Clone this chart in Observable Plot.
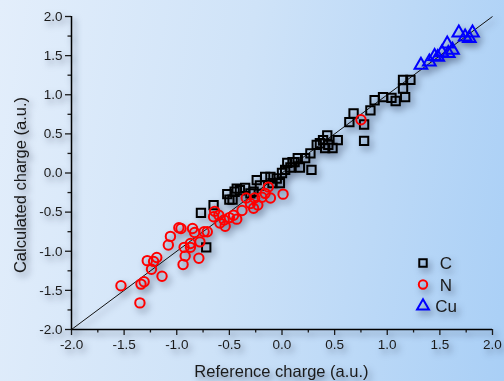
<!DOCTYPE html>
<html>
<head>
<meta charset="utf-8">
<script src="https://cdn.jsdelivr.net/npm/d3@7"></script>
<script src="https://cdn.jsdelivr.net/npm/@observablehq/plot@0.6"></script>
<style>
  html, body { margin: 0; padding: 0; }
  body { width: 504px; height: 381px; overflow: hidden;
         background: linear-gradient(100deg, #e3eefb 0%, #cfe3f8 45%, #a9cff6 100%); }
  #chart svg { display: block; filter: drop-shadow(3px 4px 3px rgba(20,30,60,0.5)); }
</style>
</head>
<body>
<div id="chart"></div>
<script>
// Tick values and labels
const majorTicks = [-2.0, -1.5, -1.0, -0.5, 0.0, 0.5, 1.0, 1.5, 2.0];
const minorTicks = [-1.75, -1.25, -0.75, -0.25, 0.25, 0.75, 1.25, 1.75];
const xTitle = "Reference charge (a.u.)";
const yTitle = "Calculated charge (a.u.)";
const seriesNames = ["C", "N", "Cu"];
const diagonal = [{x1: -2, y1: -2, x2: 2, y2: 2}];

// C (black squares)
const cRef  = [-0.77,-0.72,-0.65,-0.52,-0.50,-0.47,-0.45,-0.43,-0.40,-0.35,-0.30,-0.27,-0.24,-0.21,-0.16,-0.11,-0.09,-0.05,-0.02,0.00,0.03,0.05,0.08,0.10,0.12,0.15,0.17,0.22,0.27,0.28,0.33,0.36,0.39,0.43,0.44,0.41,0.48,0.53,0.64,0.68,0.78,0.78,0.84,0.88,0.96,1.04,1.08,1.17,1.15,1.15,1.22];
const cCalc = [-0.51,-0.95,-0.41,-0.27,-0.34,-0.34,-0.24,-0.20,-0.22,-0.19,-0.26,-0.24,-0.09,-0.16,-0.05,-0.05,-0.13,-0.07,-0.13,0.00,0.04,0.13,0.07,0.14,0.14,0.19,0.07,0.19,0.25,0.04,0.36,0.38,0.42,0.48,0.36,0.32,0.32,0.42,0.65,0.76,0.41,0.62,0.80,0.93,0.97,0.96,0.92,0.97,1.08,1.19,1.19];

// N (red circles)
const nRef  = [-1.53,-1.35,-1.34,-1.31,-1.28,-1.24,-1.22,-1.19,-1.14,-1.08,-1.06,-0.98,-0.96,-0.94,-0.92,-0.93,-0.87,-0.87,-0.85,-0.83,-0.79,-0.78,-0.74,-0.71,-0.64,-0.65,-0.60,-0.59,-0.55,-0.54,-0.50,-0.46,-0.43,-0.38,-0.34,-0.30,-0.27,-0.23,-0.26,-0.19,-0.16,-0.13,-0.11,0.01,0.75];
const nCalc = [-1.44,-1.66,-1.42,-1.39,-1.12,-1.23,-1.13,-1.08,-1.32,-0.92,-0.81,-0.70,-0.71,-1.17,-1.06,-0.95,-0.95,-0.90,-0.71,-0.76,-1.09,-0.88,-0.75,-0.75,-0.49,-0.56,-0.54,-0.64,-0.60,-0.68,-0.57,-0.54,-0.59,-0.48,-0.32,-0.39,-0.45,-0.41,-0.32,-0.31,-0.26,-0.18,-0.32,-0.27,0.68];

// Cu (blue triangles)
const cuRef  = [1.32,1.40,1.45,1.48,1.52,1.57,1.58,1.62,1.68,1.74,1.78,1.81];
const cuCalc = [1.38,1.42,1.49,1.48,1.54,1.65,1.53,1.57,1.79,1.74,1.72,1.79];

const cData  = cRef.map((x, i) => ({x, y: cCalc[i]}));
const nData  = nRef.map((x, i) => ({x, y: nCalc[i]}));
const cuData = cuRef.map((x, i) => ({x, y: cuCalc[i]}));

const fmt = d => d.toFixed(1);
const W = 504, H = 381, ML = 71, MR = 12, MT = 16, MB = 52;

const plot = Plot.plot({
  width: W, height: H,
  marginLeft: ML, marginRight: MR, marginTop: MT, marginBottom: MB,
  style: {fontFamily: "'Liberation Sans', Arial, sans-serif", fontSize: "13.5px", background: "transparent", color: "#1a1a1a", overflow: "visible"},
  x: {domain: [-2, 2]},
  y: {domain: [-2, 2]},
  marks: [
    Plot.axisX(majorTicks, {tickSize: 6, tickPadding: 4, tickFormat: fmt, label: null, strokeWidth: 1.3}),
    Plot.axisX(minorTicks, {tickSize: 3.5, tickFormat: () => "", label: null, strokeWidth: 1.3}),
    Plot.axisY(majorTicks, {tickSize: 6, tickPadding: 3, tickFormat: fmt, label: null, strokeWidth: 1.3}),
    Plot.axisY(minorTicks, {tickSize: 3.5, tickFormat: () => "", label: null, strokeWidth: 1.3}),
    Plot.ruleY([-2], {stroke: "#000", strokeWidth: 1.5}),
    Plot.ruleX([-2], {stroke: "#000", strokeWidth: 1.5}),
    Plot.link(diagonal, {x1: "x1", y1: "y1", x2: "x2", y2: "y2", stroke: "#111", strokeWidth: 1}),
    Plot.dot(cData, {x: "x", y: "y", symbol: "square", r: 4.7, stroke: "#000", strokeWidth: 2, fill: "none"}),
    Plot.dot(nData, {x: "x", y: "y", symbol: "circle", r: 4.7, stroke: "#ff0000", strokeWidth: 2, fill: "none"}),
    Plot.dot(cuData, {x: "x", y: "y", symbol: "triangle", r: 4.7, stroke: "#0000ff", strokeWidth: 2, fill: "none"})
  ]
});

const svg = d3.select(plot);
// Axis titles
svg.append("text")
  .attr("x", (ML + W - MR) / 2).attr("y", 377)
  .attr("text-anchor", "middle")
  .attr("font-size", "16.5px").attr("fill", "#1a1a1a")
  .text(xTitle);
svg.append("text")
  .attr("transform", "translate(26,185) rotate(-90)")
  .attr("text-anchor", "middle")
  .attr("font-size", "16.5px").attr("fill", "#1a1a1a")
  .text(yTitle);

// Legend
const legendStyles = [
  {sym: d3.symbolSquare, r: 4.2, stroke: "#000"},
  {sym: d3.symbolCircle, r: 4.2, stroke: "#ff0000"},
  {sym: d3.symbolTriangle, r: 4.4, stroke: "#0000ff"}
];
const lg = svg.append("g");
seriesNames.forEach((name, i) => {
  const s = legendStyles[i];
  const cy = 263 + i * 21.5;
  lg.append("path")
    .attr("transform", `translate(423,${cy})`)
    .attr("d", d3.symbol(s.sym, Math.PI * s.r * s.r)())
    .attr("fill", "none").attr("stroke", s.stroke).attr("stroke-width", 2);
  lg.append("text")
    .attr("x", 446).attr("y", cy).attr("dy", "0.36em")
    .attr("font-size", "17px").attr("fill", "#1a1a1a")
    .text(name);
});

document.getElementById("chart").appendChild(plot);
</script>
</body>
</html>
